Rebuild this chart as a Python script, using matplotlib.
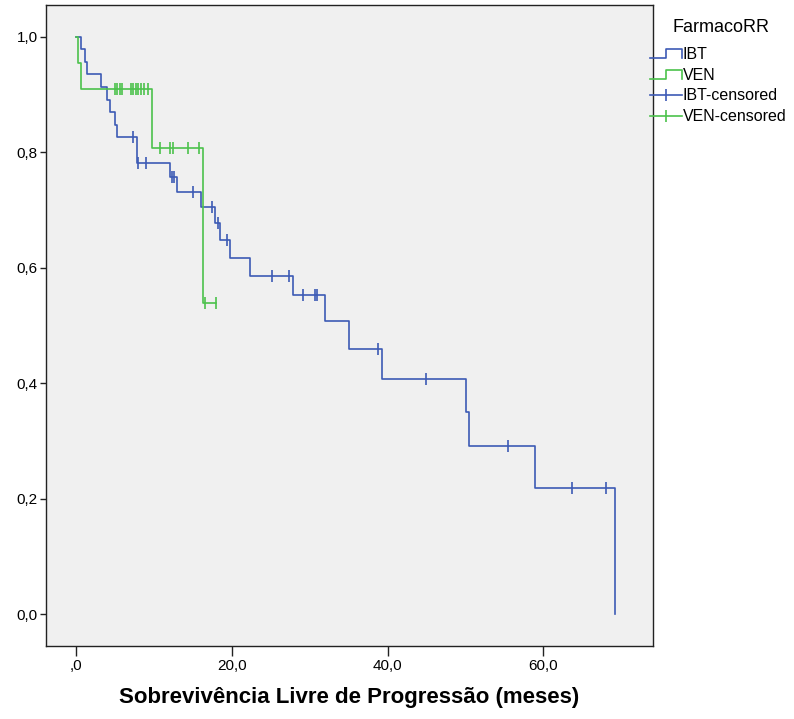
import numpy as np
import matplotlib
matplotlib.use("Agg")
import matplotlib.pyplot as plt
from matplotlib.lines import Line2D
from matplotlib.legend_handler import HandlerBase
from matplotlib import font_manager

# ---- data ----
ibt_event_times = [0, 0.7, 1.1, 1.4, 3.2, 4.0, 4.4, 5.0, 5.3, 7.8, 12.1, 13.0, 16.1,
                   17.8, 18.5, 19.8, 22.4, 27.8, 32.0, 35.0, 39.3, 50.1, 50.5, 58.9, 69.2]
ibt_survival = [1.0, 0.978, 0.957, 0.935, 0.913, 0.891, 0.870, 0.848, 0.826, 0.781, 0.757,
                0.732, 0.706, 0.677, 0.648, 0.617, 0.586, 0.552, 0.507, 0.459, 0.408,
                0.351, 0.292, 0.219, 0.0]
ibt_censored = [7.3, 7.9, 9.0, 12.3, 12.6, 15.0, 17.4, 18.2, 19.4, 25.2, 27.3, 29.1,
                30.7, 30.9, 38.8, 44.9, 55.5, 63.7, 68.0]

ven_event_times = [0, 0.3, 0.6, 9.8, 16.3]
ven_survival = [1.0, 0.954, 0.909, 0.808, 0.539]
ven_censored = [5.0, 5.3, 5.6, 5.9, 7.0, 7.3, 7.7, 8.0, 8.4, 8.7, 9.3,
                10.8, 12.1, 12.4, 14.4, 15.8, 16.6, 18.0]

x_ticks = [0, 20, 40, 60]
x_ticklabels = [",0", "20,0", "40,0", "60,0"]
y_ticks = [0.0, 0.2, 0.4, 0.6, 0.8, 1.0]
y_ticklabels = ["0,0", "0,2", "0,4", "0,6", "0,8", "1,0"]

legend_title = "FarmacoRR"
legend_labels = ["IBT", "VEN", "IBT-censored", "VEN-censored"]
xlabel = "Sobrevivência Livre de Progressão (meses)"

BLUE = "#3d5ab5"
GREEN = "#4cc24c"

avail = {f.name for f in font_manager.fontManager.ttflist}
base_font = "Liberation Sans" if "Liberation Sans" in avail else "DejaVu Sans"
plt.rcParams["font.family"] = [base_font, "DejaVu Sans"]

W, H = 794, 719
fig = plt.figure(figsize=(W / 100, H / 100), dpi=100)
fig.patch.set_facecolor("white")
L, R, T, B = 46, 653, 5, 646
ax = fig.add_axes([L / W, 1 - B / H, (R - L) / W, (B - T) / H])
ax.set_facecolor("#f0f0f0")


def step_data(times, surv, cens):
    t = list(times)
    s = list(surv)
    end = max(max(cens), t[-1])
    if end > t[-1]:
        t.append(end)
        s.append(s[-1])
    return t, s


def surv_at(times, surv, tc):
    idx = np.searchsorted(np.array(times), np.array(tc), side="right") - 1
    return np.array(surv)[idx]


for times, surv, cens, col in [(ibt_event_times, ibt_survival, ibt_censored, BLUE),
                               (ven_event_times, ven_survival, ven_censored, GREEN)]:
    t, s = step_data(times, surv, cens)
    ax.step(t, s, where="post", color=col, lw=1.2, zorder=3)
    ax.plot(cens, surv_at(times, surv, cens), ls="none", marker="|", ms=8.5, mew=1.2,
            color=col, zorder=4)

ax.set_xlim(-3.85, 74.07)
ax.set_ylim(-0.055, 1.055)
ax.set_xticks(x_ticks)
ax.set_xticklabels(x_ticklabels)
ax.set_yticks(y_ticks)
ax.set_yticklabels(y_ticklabels)
ax.tick_params(axis="x", length=7, width=1, pad=2, labelsize=11, color="#222222")
ax.tick_params(axis="y", length=4, width=1, pad=2, labelsize=11, color="#222222")
for sp in ax.spines.values():
    sp.set_color("#222222")
    sp.set_linewidth(1.0)

fig.text((L + R) / 2 / W, 1 - 698 / H, xlabel, ha="center", va="center",
         fontsize=16, fontweight="bold")

fig.text(721 / W, 1 - 27 / H, legend_title, ha="center", va="center", fontsize=13)


class StepHandler(HandlerBase):
    def create_artists(self, legend, orig_handle, xdescent, ydescent, width, height,
                       fontsize, trans):
        x0, x1 = -xdescent, -xdescent + width
        y0, y1 = -ydescent + 0.05 * height, -ydescent + 0.85 * height
        xm = x0 + 0.5 * width
        ln = Line2D([x0, xm, xm, x1, x1], [y0, y0, y1, y1, y0],
                    color=orig_handle.get_color(), lw=1.2, transform=trans)
        return [ln]


h_ibt = Line2D([], [], color=BLUE)
h_ven = Line2D([], [], color=GREEN)
h_ibt_c = Line2D([], [], color=BLUE, lw=1.2, marker="|", ms=9, mew=1.2)
h_ven_c = Line2D([], [], color=GREEN, lw=1.2, marker="|", ms=9, mew=1.2)
leg = fig.legend([h_ibt, h_ven, h_ibt_c, h_ven_c], legend_labels,
                 handler_map={h_ibt: StepHandler(), h_ven: StepHandler()},
                 loc="upper left", bbox_to_anchor=(650 / W, 1 - 47 / H),
                 frameon=False, fontsize=11.5, handlelength=2.0, handletextpad=0.05,
                 labelspacing=0.36, borderaxespad=0, borderpad=0)

fig.savefig("out.png", dpi=100, facecolor="white")
